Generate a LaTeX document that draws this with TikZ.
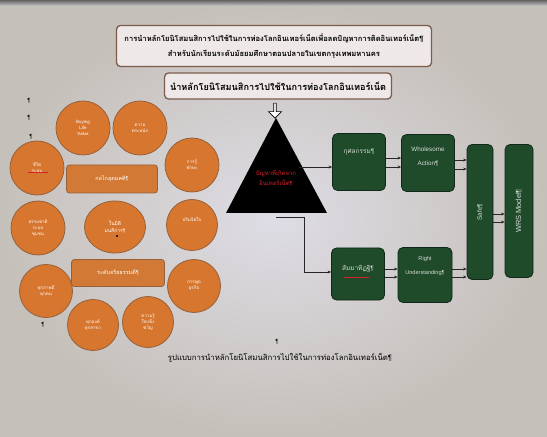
\documentclass[tikz,border=0pt]{standalone}
\usepackage{fontspec}
\setmainfont{Liberation Sans}
\newfontfamily\thai[Script=Thai]{Loma}
\newfontfamily\lat{Liberation Sans}
\usetikzlibrary{shapes.geometric,shapes.arrows,arrows.meta}
\newcommand\pil{{\lat\P}}
\definecolor{bgin}{HTML}{DEDDE5}
\definecolor{bgout}{HTML}{C6C0BA}
\definecolor{boxfill}{HTML}{EEE8E8}
\definecolor{boxline}{HTML}{7A5C4C}
\definecolor{orfill}{HTML}{D7772F}
\definecolor{orline}{HTML}{95603A}
\definecolor{orrect}{HTML}{D27A35}
\definecolor{grfill}{HTML}{1F4B2A}
\definecolor{grline}{HTML}{10281A}
\definecolor{grtext}{HTML}{D6DCD6}
\definecolor{redtxt}{HTML}{D8202A}
\tikzset{
  titlebox/.style={draw=boxline, line width=1.3pt, fill=boxfill, rounded corners=4pt, inner sep=0pt},
  circ/.style={circle, draw=orline, line width=0.8pt, fill=orfill, inner sep=0pt, minimum size=#1, text=white, font=\thai\fontsize{4.5}{6}\selectfont, align=center},
  orbox/.style={draw=orline, line width=0.8pt, fill=orrect, rounded corners=3pt, inner sep=0pt, text=white, font=\thai\fontsize{5.5}{7}\selectfont},
  grbox/.style={draw=grline, line width=0.8pt, fill=grfill, rounded corners=5pt, inner sep=0pt, text=grtext, align=center, font=\fontsize{5}{8}\selectfont},
  grtxt/.style={text=grtext, font=\fontsize{5}{8}\selectfont, inner sep=0pt},
  arr/.style={draw=black!85, line width=0.6pt, -{Stealth[length=3.5pt,width=3pt]}},
}
\begin{document}
\begin{tikzpicture}[x=1bp,y=-1bp]
\useasboundingbox (0,0) rectangle (547,437);
\shade[inner color=bgin, outer color=bgout] (0,0) rectangle (547,437);
\shade[top color=black!70, bottom color=bgin!90!black, opacity=0.8] (0,0) rectangle (547,6);

% title boxes
\node[titlebox, minimum width=315bp, minimum height=41bp] (t1) at (274,46) {};
\node[font=\thai\bfseries\fontsize{7.6}{15}\selectfont, align=center] (t1txt) at (t1.center)
  {การนำหลักโยนิโสมนสิการไปใช้ในการท่องโลกอินเทอร์เน็ตเพื่อลดปัญหาการติดอินเทอร์เน็ต\pil\\
   สำหรับนักเรียนระดับมัธยมศึกษาตอนปลายในเขตกรุงเทพมหานคร};
\node[titlebox, minimum width=227bp, minimum height=26bp] (t2) at (278,86) {};
\node[font=\thai\bfseries\fontsize{9.2}{10}\selectfont] (t2txt) at (t2.center)
  {นำหลักโยนิโสมนสิการไปใช้ในการท่องโลกอินเทอร์เน็ต};

% hollow arrow
\node[single arrow, draw=black, line width=0.7pt, fill=white, shape border rotate=270,
  minimum height=15bp, minimum width=13bp, single arrow head extend=1.5pt, inner sep=0pt] (dn) at (275,110) {};

% triangle
\coordinate (apex) at (276,118);
\coordinate (bl) at (226,213);
\coordinate (br) at (327,213);
\fill[black] (apex) -- (br) -- (bl) -- cycle;
\node[text=redtxt, font=\thai\fontsize{6}{10}\selectfont, align=center] (tri) at (276,178)
  {ปัญหาที่เกิดจาก\\ อินเทอร์เน็ต\pil};
\coordinate (triR) at (299,167);
\coordinate (triB) at (276,217);
\coordinate (bend) at (304,217);

% green boxes
\node[grbox, minimum width=53bp, minimum height=57bp] (b1) at (359,162) {};
\node[grtxt, font=\thai\fontsize{6.5}{8}\selectfont] (b1t) at (359,152) {กุศลกรรม\pil};
\node[grbox, minimum width=53bp, minimum height=57bp] (b2) at (428,163) {};
\node[grtxt, align=center, font=\fontsize{6.3}{14}\selectfont] (b2t) at (428,157) {Wholesome\\ Action\pil};
\node[grbox, minimum width=26bp, minimum height=135bp] (safe) at (480,212) {};
\node[grtxt, rotate=90, font=\fontsize{6.5}{8}\selectfont] (safet) at (480,212) {Safe\pil};
\node[grbox, minimum width=28bp, minimum height=133bp] (wrs) at (519,211) {};
\node[grtxt, rotate=90, font=\fontsize{7.5}{8}\selectfont] (wrst) at (519,211) {WRS Model\pil};
\node[grbox, minimum width=53bp, minimum height=52bp] (b3) at (358,274) {};
\node[grtxt, font=\thai\fontsize{6.5}{8}\selectfont] (b3t) at (358,269) {สัมมาทิฏฐิ\pil};
\node[grbox, minimum width=54bp, minimum height=55bp] (b4) at (425,275) {};
\node[grtxt, align=center, font=\fontsize{5.6}{14}\selectfont] (b4t) at (425,266) {Right\\ Understanding\pil};
\draw[redtxt, line width=0.5pt] (344,277) -- (369,277);

% connectors
\draw[arr] (triR) -- (b1.west |- triR);
\draw[draw=black!85, line width=0.6pt] (triB) -- (bend);
\draw[arr] (bend) |- (b3.west |- 0,272);
\draw[arr] (b1.east |- 0,158) -- (b2.west |- 0,158);
\draw[arr] (b1.east |- 0,167) -- (b2.west |- 0,167);
\draw[arr] (b2.east |- 0,160) -- (safe.west |- 0,160);
\draw[arr] (b2.east |- 0,169) -- (safe.west |- 0,169);
\draw[arr] (safe.east |- 0,214) -- (wrs.west |- 0,214);
\draw[arr] (safe.east |- 0,222) -- (wrs.west |- 0,222);
\draw[arr] (b3.east |- 0,269) -- (b4.west |- 0,269);
\draw[arr] (b3.east |- 0,277) -- (b4.west |- 0,277);
\draw[arr] (b4.east |- 0,269) -- (safe.west |- 0,269);
\draw[arr] (b4.east |- 0,277) -- (safe.west |- 0,277);

% orange cluster
\node[circ=54bp] (c1) at (83,128) {Buying\\ Life\\ Value};
\node[circ=54bp] (c2) at (140,128) {ความ\\ ตระหนัก};
\node[circ=54bp] (c3) at (37,168) {ชีวิต\\ ระบบ};
\node[circ=54bp] (c4) at (192,165) {การรู้\\ ทักษะ};
\node[orbox, minimum width=91bp, minimum height=28bp] (r1) at (112,179) {กลไกอุดมคติ\pil};
\node[circ=54bp] (c5) at (38,228) {ธรรมชาติ\\ ระบบ\\ ชุมชน};
\node[circ=54bp, ellipse, minimum width=61bp, minimum height=52bp] (c6) at (115,227) {\fontsize{5}{7}\selectfont ในมิติ\\[1pt] \fontsize{5}{7}\selectfont มนสิการ\pil};
\node[circ=51bp] (c7) at (192,225) {\raisebox{12pt}{ปริมจิตใจ}};
\node[orbox, minimum width=93bp, minimum height=27bp] (r2) at (118,273) {ระดับจริยธรรมดี\pil};
\node[circ=53bp] (c8) at (46,291) {ทุกภาพดี\\ ทุกคน};
\node[circ=53bp] (c9) at (194,286) {การพูด\\ ธุรกิจ};
\node[circ=51bp] (c10) at (93,325) {ทุกองค์\\ ทุกสาขา};
\node[circ=51bp] (c11) at (148,322) {ความรู้\\ ใจแข็ง\\ ขวัญ};
\fill[black] (117,236) circle (1.2bp);
\draw[redtxt, line width=0.5pt] (28,172) -- (48,172);

% pilcrows
\node[font=\fontsize{6}{7}\selectfont] (p1) at (29,101) {\P};
\node[font=\fontsize{6}{7}\selectfont] (p2) at (29,118) {\P};
\node[font=\fontsize{6}{7}\selectfont] (p3) at (31,137) {\P};
\node[font=\fontsize{6}{7}\selectfont] (p4) at (43,325) {\P};
\node[font=\fontsize{6}{7}\selectfont] (p5) at (277,342) {\P};

% caption
\node[font=\thai\fontsize{7.8}{9}\selectfont] (cap) at (280,358)
  {รูปแบบการนำหลักโยนิโสมนสิการไปใช้ในการท่องโลกอินเทอร์เน็ต\pil};
\end{tikzpicture}
\end{document}
